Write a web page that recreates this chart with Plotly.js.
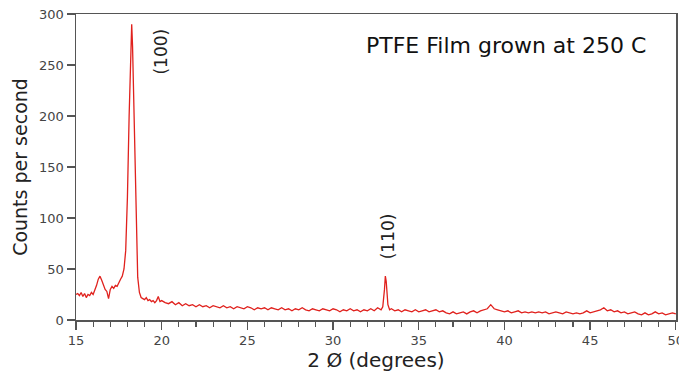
<!DOCTYPE html>
<html>
<head>
<meta charset="utf-8">
<script src="https://cdn.plot.ly/plotly-3.0.1.min.js"></script>
<style>html,body{margin:0;padding:0;background:#fff;}#chart{width:679px;height:377px;}</style>
</head>
<body>
<div id="chart"></div>
<script>
// 2-theta (degrees)
var twoTheta = [
15.0,15.1,15.2,15.3,15.4,15.5,15.6,15.7,15.8,15.9,
16.0,16.1,16.2,16.3,16.4,16.5,16.6,16.7,16.8,16.9,
17.0,17.1,17.2,17.3,17.4,17.5,17.6,17.7,17.8,17.9,
18.0,18.1,18.2,18.25,18.3,18.4,18.5,18.6,18.7,18.8,18.9,
19.0,19.1,19.2,19.3,19.4,19.5,19.6,19.7,19.8,19.9,
20.0,20.2,20.4,20.6,20.8,21.0,21.2,21.4,21.6,21.8,
22.0,22.2,22.4,22.6,22.8,23.0,23.2,23.4,23.6,23.8,
24.0,24.2,24.4,24.6,24.8,25.0,25.2,25.4,25.6,25.8,
26.0,26.2,26.4,26.6,26.8,27.0,27.2,27.4,27.6,27.8,
28.0,28.2,28.4,28.6,28.8,29.0,29.2,29.4,29.6,29.8,
30.0,30.2,30.4,30.6,30.8,31.0,31.2,31.4,31.6,31.8,
32.0,32.2,32.4,32.6,32.8,32.9,33.0,33.05,33.1,33.2,33.3,
33.4,33.6,33.8,34.0,34.2,34.4,34.6,34.8,
35.0,35.2,35.4,35.6,35.8,36.0,36.2,36.4,36.6,36.8,
37.0,37.2,37.4,37.6,37.8,38.0,38.2,38.4,38.6,38.8,
39.0,39.2,39.4,39.6,39.8,40.0,40.2,40.4,40.6,40.8,
41.0,41.2,41.4,41.6,41.8,42.0,42.2,42.4,42.6,42.8,
43.0,43.2,43.4,43.6,43.8,44.0,44.2,44.4,44.6,44.8,
45.0,45.2,45.4,45.6,45.8,46.0,46.2,46.4,46.6,46.8,
47.0,47.2,47.4,47.6,47.8,48.0,48.2,48.4,48.6,48.8,
49.0,49.2,49.4,49.6,49.8,50.0
];
// counts per second
var counts = [
25,26,24,27,23,26,22,25,24,27,
25,29,34,40,43,39,35,30,28,21,
30,33,31,34,33,37,40,43,50,68,
120,200,275,290,268,190,115,42,27,22,21,
20,22,19,20,18,19,17,19,23,18,
19,17,16,18,15,17,14,16,14,15,
13,15,13,14,12,14,13,12,14,12,
13,11,13,12,11,13,12,10,12,11,
12,10,12,11,10,12,10,11,9,11,
10,12,10,9,11,10,9,11,10,9,
11,10,8,10,9,11,9,10,8,10,
9,11,9,12,10,13,30,43,38,15,10,
11,9,10,8,10,9,8,10,
8,9,10,8,9,10,8,9,7,6,
8,6,7,8,6,8,9,7,9,10,
11,15,11,10,9,8,9,7,8,9,
7,8,7,8,7,8,7,8,6,7,
8,7,6,8,7,6,7,6,7,9,
7,8,9,10,12,9,10,8,9,7,
8,6,7,8,6,5,7,5,6,8,
6,7,5,6,7,6
];
var peakLabels = ["(100)", "(110)"];
var peakX = [19.95, 33.2];
var peakY = [263, 82];
var titleText = "PTFE Film grown at 250 C";

var fontFam = "DejaVu Sans, Verdana, sans-serif";
var annotations = peakLabels.map(function (t, i) {
  return {x: peakX[i], y: peakY[i], xref: 'x', yref: 'y', text: t, showarrow: false,
    xanchor: 'center', yanchor: 'middle',
    textangle: -90, font: {family: fontFam, size: 17, color: '#222'}};
});
annotations.push({x: 0.717, y: 0.896, xref: 'paper', yref: 'paper', text: titleText,
  xanchor: 'center', yanchor: 'middle',
  showarrow: false, font: {family: fontFam, size: 22, color: '#111'}});

var trace = {x: twoTheta, y: counts, type: 'scatter', mode: 'lines',
  line: {color: '#e0211d', width: 1.3}};

var layout = {
  width: 679, height: 377,
  margin: {l: 76, r: 3, t: 14, b: 57},
  paper_bgcolor: '#fff', plot_bgcolor: '#fff',
  showlegend: false,
  font: {family: fontFam, color: '#444'},
  xaxis: {range: [15, 50.01], showgrid: false, zeroline: false, showline: true, mirror: true,
    linecolor: '#555', linewidth: 1.5, ticks: 'outside', ticklen: 8, tickwidth: 1.3, tickcolor: '#555',
    tickmode: 'linear', dtick: 5, tick0: 15, tickfont: {size: 13, color: '#444'},
    ticklabeloverflow: 'allow',
    minor: {dtick: 1, ticks: 'outside', ticklen: 5, tickwidth: 1.1, tickcolor: '#555', showgrid: false},
    title: {text: '2 Ø (degrees)', font: {size: 20, color: '#222'}, standoff: 2}},
  yaxis: {range: [0, 300], showgrid: false, zeroline: false, showline: true, mirror: true,
    linecolor: '#555', linewidth: 1.5, ticks: 'outside', ticklen: 8, tickwidth: 1.3, tickcolor: '#555',
    dtick: 50, tickfont: {size: 13, color: '#444'},
    title: {text: 'Counts per second', font: {size: 19, color: '#222'}, standoff: 6}},
  annotations: annotations
};
Plotly.newPlot('chart', [trace], layout, {displayModeBar: false, staticPlot: true});
</script>
</body>
</html>
